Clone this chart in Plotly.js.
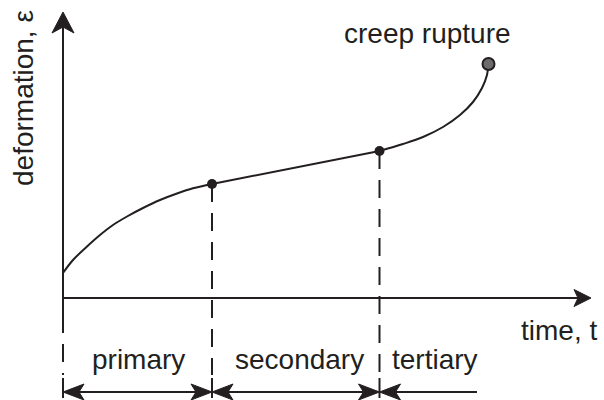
<!DOCTYPE html>
<html><head><meta charset="utf-8">
<script src="https://cdn.plot.ly/plotly-3.0.1.min.js"></script>
<style>html,body{margin:0;padding:0;background:#fff;overflow:hidden}#chart{width:604px;height:400px}</style>
</head><body><div id="chart"></div>
<script>
// creep curve: time t vs deformation ε (arbitrary units)
const primaryT = [0, 1.0, 2.4, 3.7, 5.0, 6.4, 8.0, 9.7, 11.4, 13.0, 14.9];
const primaryE = [2.5, 3.8, 5.15, 6.3, 7.3, 8.15, 9.0, 9.8, 10.45, 10.97, 11.4];
const secondaryT = [14.9, 23.3, 31.65];
const secondaryE = [11.4, 13.05, 14.7];
const tertiaryT = [31.65, 34.0, 36.0, 38.0, 39.7, 41.0, 41.9, 42.4, 42.55];
const tertiaryE = [14.7, 15.4, 16.1, 17.1, 18.3, 19.6, 21.0, 22.3, 23.4];
const phaseNames = ['primary', 'secondary', 'tertiary'];
const phaseStart = [0, 14.9, 31.65];
const phaseEnd = [14.9, 31.65, 41.4];
const transitionT = [14.9, 31.65];
const transitionE = [11.4, 14.7];
const ruptureT = [42.55];
const ruptureE = [23.4];
const xAxisLabel = 'time, t';
const yAxisLabel = 'deformation, ε';
const ruptureLabel = 'creep rupture';

const INK = '#231f20';
const FONT = 'Liberation Sans, Arial, Helvetica, sans-serif';
const XR = [-6.3, 54.1], YR = [-10.2, 29.8];
const W = 604, H = 400;
const pxX = W / (XR[1] - XR[0]);   // px per time unit
const pxY = H / (YR[1] - YR[0]);   // px per deformation unit
const dx = p => p / pxX, dy = p => p / pxY;

const yAxisTop = dy(298 - 12);
const xAxisEnd = dx(591 - 63);
const belowAxis = -dy(17);
const dashEnd = -dy(77);
const tickTop = -dy(80), tickBot = -dy(100);
const arrowY = -dy(94);

function f(v){return v.toFixed(3);}
function arrowHead(tx, ty, ux, uy, len, half, notch) {
  const px = -uy, py = ux;
  const toD = (ax, ay) => [tx + dx(ax), ty + dy(ay)];
  const p1 = toD(-ux*len + px*half, -uy*len + py*half);
  const p2 = toD(-ux*(len-notch), -uy*(len-notch));
  const p3 = toD(-ux*len - px*half, -uy*len - py*half);
  return {type:'path', xref:'x', yref:'y', layer:'above',
    path:`M${f(tx)},${f(ty)} L${f(p1[0])},${f(p1[1])} L${f(p2[0])},${f(p2[1])} L${f(p3[0])},${f(p3[1])} Z`,
    fillcolor:INK, line:{color:INK, width:1}};
}
function seg(x0,y0,x1,y1,dash){
  return {type:'line', xref:'x', yref:'y', x0:x0, y0:y0, x1:x1, y1:y1, layer:'below',
    line:{color:INK, width:2, dash:dash||'solid'}};
}

const shapes = [];
shapes.push(seg(0, belowAxis, 0, yAxisTop - dy(10)));
shapes.push(arrowHead(0, yAxisTop, 0, 1, 21, 11, 6));
shapes.push(seg(0, 0, xAxisEnd - dx(8), 0));
shapes.push(arrowHead(xAxisEnd, 0, 1, 0, 17, 8.5, 4));
shapes.push(seg(0, belowAxis, 0, dashEnd, '18px,11px'));
transitionT.forEach((t,i)=>shapes.push(seg(t, transitionE[i], t, dashEnd, '18px,11px')));
phaseStart.forEach(t=>shapes.push(seg(t, tickTop, t, tickBot)));
phaseNames.forEach((n,i)=>{
  const a = phaseStart[i], b = phaseEnd[i];
  shapes.push(seg(a + dx(10), arrowY, b - (i<2 ? dx(10) : 0), arrowY));
  shapes.push(arrowHead(a, arrowY, -1, 0, 21, 8, 5));
  if (i < 2) shapes.push(arrowHead(b, arrowY, 1, 0, 21, 8, 5));
});

const lineStyle = {color:INK, width:2};
const data = [
  {x:primaryT, y:primaryE, mode:'lines', line:Object.assign({shape:'spline', smoothing:1}, lineStyle), hoverinfo:'skip'},
  {x:secondaryT, y:secondaryE, mode:'lines', line:Object.assign({shape:'linear'}, lineStyle), hoverinfo:'skip'},
  {x:tertiaryT, y:tertiaryE, mode:'lines', line:Object.assign({shape:'spline', smoothing:1}, lineStyle), hoverinfo:'skip'},
  {x:transitionT, y:transitionE, mode:'markers', marker:{color:INK, size:10}, hoverinfo:'skip'},
  {x:ruptureT, y:ruptureE, mode:'markers', marker:{color:'#6d6b6b', size:12, line:{color:INK, width:2}}, hoverinfo:'skip'}
];

const annFont = {family:FONT, size:28, color:INK};
const annotations = [];
phaseNames.forEach((n,i)=>{
  const mid = (phaseStart[i] + phaseEnd[i]) / 2;
  annotations.push({x: mid, y: -dy(61), text:n, showarrow:false, font:annFont,
    xanchor:'center', yanchor:'middle', xshift: i===2 ? 7 : (i===1 ? 4 : 1)});
});
annotations.push({x: ruptureT[0], y: ruptureE[0], text: ruptureLabel, showarrow:false, font:annFont,
  xanchor:'center', yanchor:'middle', xshift:-61, yshift:31});
annotations.push({x: dx(519-63), y: -dy(32), text: xAxisLabel, showarrow:false, font:annFont,
  xanchor:'left', yanchor:'middle'});
annotations.push({x: -dx(63-23), y: dy(298-98), text: yAxisLabel, showarrow:false, font:annFont,
  textangle:-90, xanchor:'center', yanchor:'middle'});

const layout = {
  width:W, height:H, margin:{l:0,r:0,t:0,b:0}, showlegend:false,
  paper_bgcolor:'#fff', plot_bgcolor:'#fff',
  xaxis:{range:XR, visible:false, fixedrange:true},
  yaxis:{range:YR, visible:false, fixedrange:true},
  shapes:shapes, annotations:annotations
};
Plotly.newPlot('chart', data, layout, {staticPlot:true, displayModeBar:false});
</script>
</body></html>
